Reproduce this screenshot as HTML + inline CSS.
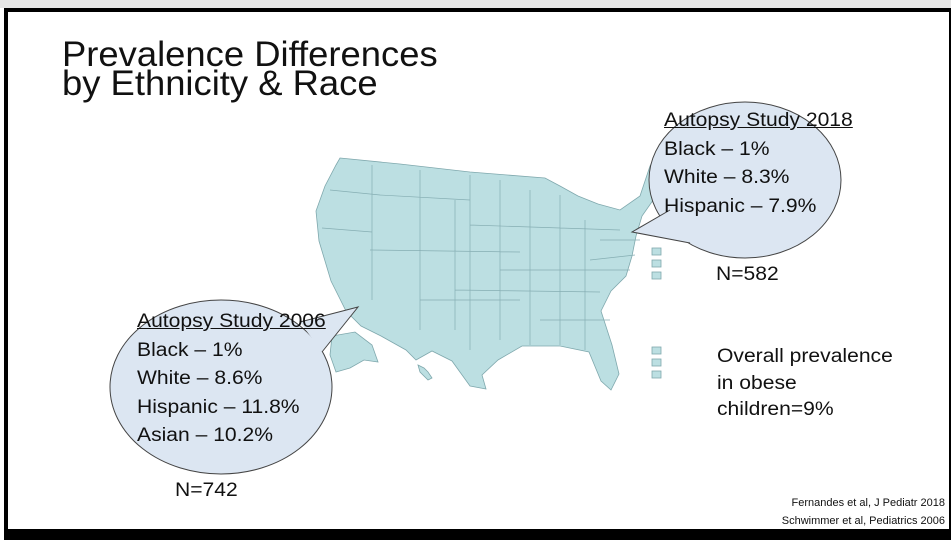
<!DOCTYPE html>
<html><head><meta charset="utf-8"><style>
html,body{margin:0;padding:0;background:#fff}
body{width:951px;height:540px;position:relative;overflow:hidden;font-family:"Liberation Sans",sans-serif;color:#111}
.t{position:absolute;white-space:nowrap}
.b{font-size:19px;transform:scaleX(1.11);transform-origin:left}
</style></head><body>
<div style="position:absolute;left:0;top:0;width:951px;height:8px;background:#e6e6e6"></div>
<div style="position:absolute;left:4px;top:8px;width:941px;height:517px;border:4px solid #000;border-right:6px solid #000;border-bottom:11px solid #000;background:#fff"></div>
<svg style="position:absolute;left:0;top:0" width="951" height="540">
<g fill="#bcdfe2" stroke="#7fa8ad" stroke-width="0.8">
<polygon points="340,158 400,164 470,172 545,178 560,186 578,196 598,204 620,210 640,196 650,166 660,148 668,160 665,176 656,196 642,216 636,236 632,256 626,276 611,291 601,311 612,345 619,374 611,390 601,381 589,352 560,346 522,346 498,360 482,375 486,389 470,386 452,361 432,351 416,360 406,350 381,336 361,326 346,311 331,281 319,241 316,211 325,186 336,165"/>
<polygon points="332,336 355,332 372,345 378,362 364,360 350,368 336,372 330,355"/>
<polygon points="418,365 424,368 428,372 432,378 428,380 420,372"/>
<rect x="652" y="248" width="9" height="7"/><rect x="652" y="260" width="9" height="7"/><rect x="652" y="272" width="9" height="7"/>
<rect x="652" y="347" width="9" height="7"/><rect x="652" y="359" width="9" height="7"/><rect x="652" y="371" width="9" height="7"/>
</g>
<g stroke="#86aeb3" stroke-width="0.7" fill="none">
<path d="M330,190 L380,195 M322,228 L372,232 M372,165 L372,300 M380,195 L470,200 M420,170 L420,330 M370,250 L520,252 M455,200 L455,330 M470,175 L470,350 M500,180 L500,340 M530,190 L530,345 M455,290 L600,292 M420,300 L520,300 M560,195 L560,345 M585,220 L585,350 M470,225 L620,230 M500,270 L630,270 M540,320 L610,320 M600,240 L640,240 M590,260 L635,255"/>
</g>
<ellipse cx="221" cy="387" rx="111" ry="87" fill="#dce6f2" stroke="#444" stroke-width="1"/>
<polygon points="300,322 358,307 322,352" fill="#dce6f2"/>
<path d="M300,322 L358,307 L322,352" fill="none" stroke="#444" stroke-width="1"/>
<ellipse cx="745" cy="180" rx="96" ry="78" fill="#dce6f2" stroke="#444" stroke-width="1"/>
<polygon points="670,210 632,232 690,243" fill="#dce6f2"/>
<path d="M670,210 L632,232 L690,243" fill="none" stroke="#444" stroke-width="1"/>
</svg>
<div class="t" style="left:62px;top:40px;font-size:35px;line-height:29px;transform:scaleX(1.04);transform-origin:left">Prevalence Differences<br>by Ethnicity &amp; Race</div>
<div class="t b" style="left:664px;top:107px;line-height:28.7px"><u>Autopsy Study 2018</u><br>Black – 1%<br>White – 8.3%<br>Hispanic – 7.9%</div>
<div class="t b" style="left:716px;top:264px">N=582</div>
<div class="t b" style="left:137px;top:308px;line-height:28.6px"><u>Autopsy Study 2006</u><br>Black – 1%<br>White – 8.6%<br>Hispanic – 11.8%<br>Asian – 10.2%</div>
<div class="t b" style="left:175px;top:480px">N=742</div>
<div class="t b" style="left:717px;top:344px;line-height:26.5px">Overall prevalence<br>in obese<br>children=9%</div>
<div class="t" style="right:6px;top:494px;font-size:11px;line-height:18px;text-align:right">Fernandes et al, J Pediatr 2018<br>Schwimmer et al, Pediatrics 2006</div>
</body></html>
